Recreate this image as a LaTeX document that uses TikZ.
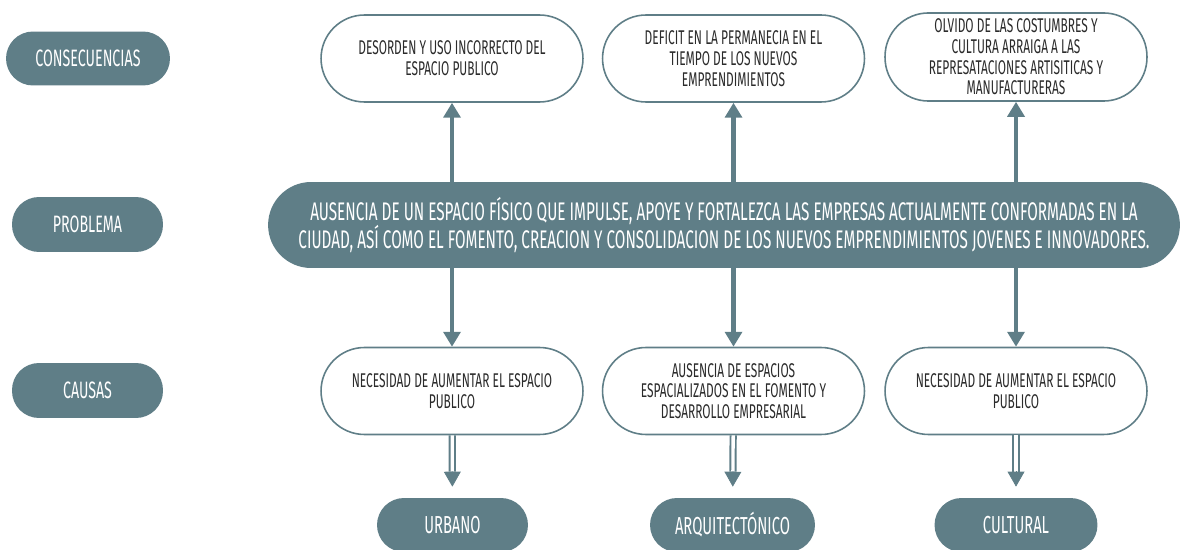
\documentclass[tikz,border=0pt]{standalone}
\usepackage{fontspec}
\setmainfont{Fira Sans}[FakeStretch=0.6]
\usetikzlibrary{arrows.meta}
\definecolor{pizarra}{HTML}{5F7E87}
\definecolor{tinta}{HTML}{2B2B2B}
\tikzset{
	titulo/.style = {fill = pizarra, text = white, rounded corners = 0.54cm, minimum height = 1.08cm, font = \fontsize{13.5}{15}\selectfont},
	cuadro/.style = {draw = pizarra, line width = 0.9pt, fill = white, text = tinta, rounded corners = 0.87cm, minimum width = 5.24cm, minimum height = 1.74cm, align = center, font = \fontsize{11.3}{11.8}\selectfont},
	flecha/.style = {pizarra, line width = 2.8pt, -{Triangle[width = 9.6pt, length = 8.5pt]}},
	doble/.style = {pizarra, line width = 1.1pt, double = white, double distance = 1.9pt},
	punta/.style = {pizarra, line width = 0.4pt, -{Triangle[width = 9.6pt, length = 8.5pt]}}
}
\begin{document}
\begin{tikzpicture}[x = 0.02cm, y = -0.02cm]
	\useasboundingbox (0, 0) rectangle (1183, 550);
	\node[titulo, minimum width = 3.28cm] (consecuencias) at (88, 58.5) {CONSECUENCIAS};
	\node[titulo, minimum width = 3.02cm, minimum height = 1.1cm] (problematit) at (87.5, 224.5) {PROBLEMA};
	\node[titulo, minimum width = 3.02cm, minimum height = 1.1cm] (causas) at (87.5, 390.5) {CAUSAS};
	\node[titulo, minimum width = 18.24cm, minimum height = 1.72cm, rounded corners = 0.86cm, align = center, font = \fontsize{14.5}{16}\selectfont] (problema) at (724, 225) {AUSENCIA DE UN ESPACIO FÍSICO QUE IMPULSE, APOYE Y FORTALEZCA LAS EMPRESAS ACTUALMENTE CONFORMADAS EN LA\\CIUDAD, ASÍ COMO EL FOMENTO, CREACION Y CONSOLIDACION DE LOS NUEVOS EMPRENDIMIENTOS JOVENES E INNOVADORES.};
	\node[cuadro] (efecto1) at (452, 58.5) {DESORDEN Y USO INCORRECTO DEL\\ESPACIO PUBLICO};
	\node[cuadro] (efecto2) at (733.5, 58.5) {DEFICIT EN LA PERMANECIA EN EL\\TIEMPO DE LOS NUEVOS\\EMPRENDIMIENTOS};
	\node[cuadro] (efecto3) at (1016, 57) {OLVIDO DE LAS COSTUMBRES Y\\CULTURA ARRAIGA A LAS\\REPRESATACIONES ARTISITICAS Y\\MANUFACTURERAS};
	\node[cuadro] (causa1) at (452, 391) {NECESIDAD DE AUMENTAR EL ESPACIO\\PUBLICO};
	\node[cuadro] (causa2) at (733.5, 391) {AUSENCIA DE ESPACIOS\\ESPACIALIZADOS EN EL FOMENTO Y\\DESARROLLO EMPRESARIAL};
	\node[cuadro] (causa3) at (1016, 391) {NECESIDAD DE AUMENTAR EL ESPACIO\\PUBLICO};
	\node[titulo, minimum width = 3.02cm, font = \fontsize{14}{16}\selectfont] (urbano) at (452.5, 525) {URBANO};
	\node[titulo, minimum width = 3.3cm, font = \fontsize{14}{16}\selectfont] (arquitectonico) at (732.5, 525) {ARQUITECTÓNICO};
	\node[titulo, minimum width = 3.26cm, font = \fontsize{14}{16}\selectfont] (cultural) at (1016, 525) {CULTURAL};
	\draw[flecha] (problema.north -| efecto1) -- (efecto1.south);
	\draw[flecha] (problema.north -| efecto2) -- (efecto2.south);
	\draw[flecha] (problema.north -| efecto3) -- (efecto3.south);
	\draw[flecha] (problema.south -| causa1) -- (causa1.north);
	\draw[flecha] (problema.south -| causa2) -- (causa2.north);
	\draw[flecha] (problema.south -| causa3) -- (causa3.north);
	\draw[doble, shorten >= 0.52cm] (causa1) -- (urbano);
	\draw[punta, shorten <= 0.72cm, shorten >= 0.22cm] (causa1) -- (urbano);
	\draw[doble, shorten >= 0.52cm] (causa2) -- (arquitectonico);
	\draw[punta, shorten <= 0.72cm, shorten >= 0.22cm] (causa2) -- (arquitectonico);
	\draw[doble, shorten >= 0.52cm] (causa3) -- (cultural);
	\draw[punta, shorten <= 0.72cm, shorten >= 0.22cm] (causa3) -- (cultural);
\end{tikzpicture}
\end{document}
